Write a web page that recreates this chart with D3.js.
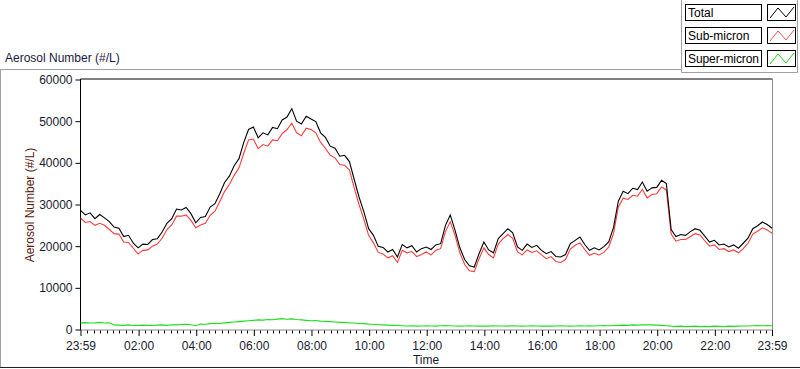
<!DOCTYPE html>
<html><head><meta charset="utf-8">
<script src="https://cdn.jsdelivr.net/npm/d3@7"></script>
<style>
body{margin:0;background:#fff;overflow:hidden;}
text{font-family:"Liberation Sans",Arial,sans-serif;}
</style>
</head><body><svg id="c" width="800" height="369"></svg>
<script>
// ---------------- data ----------------
const seriesNames = ["Total", "Sub-micron", "Super-micron"];
const stepMinutes = 10; // one value every 10 minutes starting at 23:59
const total = [
28600,27500,28000,26600,27600,26800,25900,24600,24300,22300,
22600,20700,19600,20500,20400,21600,21800,23400,25500,26600,
28900,28700,29300,27800,25600,26900,27100,29400,30200,32600,
35300,36800,39300,41000,44900,48000,48600,46000,47200,46700,
48500,48200,50300,51000,53000,50000,49300,51200,50500,49900,
47200,46100,44000,43500,41600,41800,40300,36000,31800,28300,
24200,22600,20000,19700,18600,19200,17400,20400,19600,20100,
18600,19400,19800,19200,20300,20600,25000,27500,23800,19600,
16800,15300,15000,18200,21000,19100,18400,21800,23000,24200,
23200,19800,19000,20500,19700,20200,19000,18200,18700,17500,
17400,18000,20600,21400,22200,20400,19000,19600,19100,19900,
21000,24500,30800,33200,32600,33900,33600,35400,33200,34000,
34100,35800,35000,24000,22300,22800,22600,23500,24200,23800,
22400,21000,21400,20300,20500,19800,20300,19500,20700,21900,
24200,24900,25800,25200,24300];
const subMicron = [
26700,25700,25900,25000,25500,25000,24000,23000,22900,21000,
20900,19500,18100,19000,19100,20000,20500,21900,24000,25100,
27200,27200,27500,26200,24400,25100,25500,27400,28400,30700,
33100,34800,37000,38800,42300,45500,45700,43400,44400,44000,
45500,45300,47000,48000,49500,47200,46500,48300,48000,47200,
44900,43500,41800,41200,39600,39400,38300,34000,30000,26500,
22600,20800,18500,18100,17200,17700,16100,19000,18400,18700,
17500,18000,18600,17900,19000,19400,23500,25900,22600,18400,
15600,14100,13900,17000,19600,18000,17200,20500,21800,22800,
21900,18600,17900,19100,18500,18900,17900,17000,17500,16300,
16100,16800,19300,20200,20800,19200,17800,18300,17900,18500,
19800,23000,29400,31500,31200,32200,32000,33600,31600,32400,
32600,34200,33500,22900,21200,21600,21600,22300,23000,22700,
21300,20000,20300,19200,19400,18700,19100,18400,19400,20700,
22900,23600,24400,23900,23100];
const superMicron = [
1600,1650,1550,1600,1700,1550,1600,1100,1050,1000,
1100,950,1000,1050,1000,950,1050,1100,1000,1150,
1100,1200,1250,1150,900,1300,1250,1400,1500,1450,
1600,1700,1800,1900,2000,2100,2200,2300,2250,2400,
2350,2500,2600,2450,2550,2400,2300,2200,2100,2150,
2000,1950,1900,1800,1700,1750,1600,1550,1450,1400,
1300,1250,1150,1100,1050,1000,950,900,850,900,
800,850,900,850,800,900,950,900,850,800,
850,900,850,800,850,800,900,850,850,800,
900,850,800,850,900,850,800,850,800,850,
900,850,800,850,900,850,900,850,900,950,
900,950,1000,1050,1000,1100,1050,1100,1150,1100,
1050,1000,900,800,750,800,700,750,800,700,
750,700,800,750,700,800,750,800,850,850,
900,950,900,950,900];
const yTickValues = [0, 10000, 20000, 30000, 40000, 50000, 60000];
const xTickLabels = ["23:59","02:00","04:00","06:00","08:00","10:00","12:00",
                     "14:00","16:00","18:00","20:00","22:00","23:59"];

// ---------------- chart ----------------
const svg = d3.select("#c");
const colors = ["#000000", "#ff3a3a", "#1fe01f"];
const legendColors = ["#000000", "#ff4d4d", "#22d022"];
const L = 80.5, R = 772.5, T = 79.5, B = 329.5;

const t0 = new Date(2000, 0, 1, 23, 59);
const t1 = new Date(2000, 0, 2, 23, 59);
const x = d3.scaleTime().domain([t0, t1]).range([L, R - 0.5]);
const y = d3.scaleLinear().domain([0, 60000]).range([B, T]);

// outer frame lines
svg.append("line").attr("x1",0).attr("x2",681).attr("y1",69.5).attr("y2",69.5).attr("stroke","#a0a0a0");
svg.append("line").attr("x1",0.5).attr("x2",0.5).attr("y1",69.5).attr("y2",368).attr("stroke","#a0a0a0");
svg.append("line").attr("x1",0).attr("x2",800).attr("y1",367.5).attr("y2",367.5).attr("stroke","#202020");
// legend panel lines
svg.append("line").attr("x1",681.5).attr("x2",681.5).attr("y1",0).attr("y2",72.5).attr("stroke","#a0a0a0");
svg.append("line").attr("x1",681.5).attr("x2",797.5).attr("y1",72.5).attr("y2",72.5).attr("stroke","#a0a0a0");
svg.append("line").attr("x1",797.5).attr("x2",797.5).attr("y1",0).attr("y2",72.5).attr("stroke","#a0a0a0");

// title
svg.append("text").attr("x",5).attr("y",62).attr("font-size",12).attr("fill","#1a1a40")
  .text("Aerosol Number (#/L)");

// plot frame
svg.append("line").attr("x1",L).attr("x2",R).attr("y1",T-0.5).attr("y2",T-0.5).attr("stroke","#000");
svg.append("line").attr("x1",R).attr("x2",R).attr("y1",T-0.5).attr("y2",B+0.5).attr("stroke","#8a8a8a");
svg.append("line").attr("x1",L).attr("x2",R).attr("y1",B+0.5).attr("y2",B+0.5).attr("stroke","#8a8a8a");

// y axis
const yAxis = d3.axisLeft(y).tickValues(yTickValues).tickFormat(d3.format("d")).tickSize(5).tickPadding(3);
const gy = svg.append("g").attr("transform",`translate(${L},0)`).call(yAxis);
gy.select(".domain").attr("stroke","#000").attr("d",`M0,${T-0.5}V${B+0.5}`);
gy.selectAll("text").attr("font-size",12).attr("fill","#1a1a30").attr("font-family","Liberation Sans, Arial, sans-serif");

// x axis major ticks
const xTickDates = xTickLabels.map((s, i) => {
  const [h, m] = s.split(":").map(Number);
  return new Date(2000, 0, i === 0 ? 1 : 2, h, m);
});
const xAxis = d3.axisBottom(x).tickValues(xTickDates)
  .tickFormat((d, i) => xTickLabels[i]).tickSize(6).tickPadding(5);
const gx = svg.append("g").attr("transform",`translate(0,${B+0.5})`).call(xAxis);
gx.select(".domain").remove();
gx.selectAll(".tick line").attr("stroke","#000");
gx.selectAll("text").attr("font-size",12).attr("fill","#1a1a30").attr("font-family","Liberation Sans, Arial, sans-serif");

// minor x ticks
const minor = [];
const base = new Date(2000, 0, 2, 2, 0).getTime();
for (let k = -9; k < 200; k++) {
  const d = new Date(base + k * (120 / 9) * 60000);
  if (d > t0 && d < t1 && k % 9 !== 0) minor.push(d);
}
svg.append("g").selectAll("line").data(minor).join("line")
  .attr("x1", d => Math.round(x(d)) + 0.5).attr("x2", d => Math.round(x(d)) + 0.5)
  .attr("y1", B + 1).attr("y2", B + 4).attr("stroke", "#000");

// axis titles
svg.append("text").attr("x",426).attr("y",364).attr("text-anchor","middle")
  .attr("font-size",12).attr("fill","#1a1a30").text("Time");
svg.append("text").attr("transform","translate(34,205) rotate(-90)").attr("text-anchor","middle")
  .attr("font-size",12).attr("fill","#5a1a10").text("Aerosol Number (#/L)");

// series lines
svg.append("clipPath").attr("id","clip").append("rect")
  .attr("x",L).attr("y",T).attr("width",R-L).attr("height",B-T);
const timeAt = i => new Date(t0.getTime() + i * stepMinutes * 60000);
const line = d3.line().x((d, i) => x(timeAt(i))).y(d => y(d));
const g = svg.append("g").attr("clip-path","url(#clip)");
[[subMicron,1],[total,0],[superMicron,2]].forEach(([arr, ci]) => {
  g.append("path").datum(arr).attr("d", line).attr("fill","none")
    .attr("stroke", colors[ci]).attr("stroke-width", 1.1);
});

// legend
const rows = [4, 27, 50];
seriesNames.forEach((name, i) => {
  const gy0 = rows[i];
  svg.append("rect").attr("x",685.5).attr("y",gy0+0.5).attr("width",76).attr("height",16)
    .attr("fill","#fff").attr("stroke","#000");
  svg.append("text").attr("x",688).attr("y",gy0+13).attr("font-size",12).attr("fill","#000")
    .attr("textLength", name.length > 10 ? 71 : null).text(name);
  svg.append("rect").attr("x",767.5).attr("y",gy0+0.5).attr("width",28).attr("height",16)
    .attr("fill","#fff").attr("stroke","#000");
  const pts = [[770,gy0+14],[778,gy0+4],[786,gy0+13],[794,gy0+3]];
  svg.append("path").attr("d", d3.line()(pts)).attr("fill","none")
    .attr("stroke", legendColors[i]).attr("stroke-width",1);
});
</script>
</body></html>
